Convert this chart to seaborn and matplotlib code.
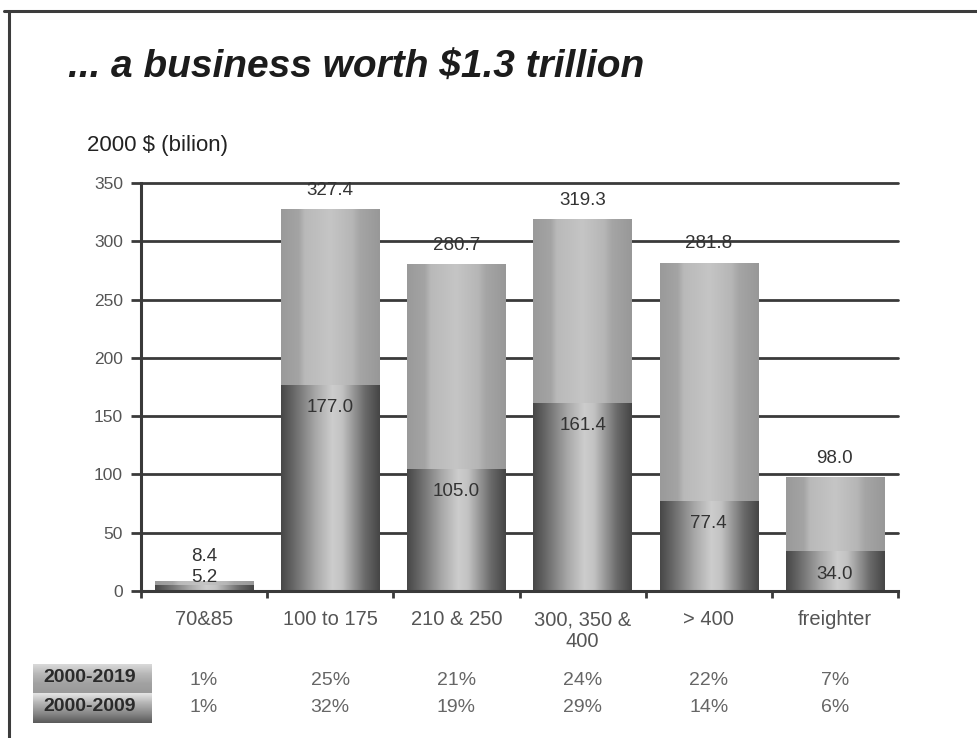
import numpy as np
import pandas as pd
import matplotlib
matplotlib.use("Agg")
import matplotlib.pyplot as plt
import seaborn as sns
from matplotlib.colors import LinearSegmentedColormap
from matplotlib.lines import Line2D
from matplotlib import transforms

# --- data -------------------------------------------------------------
categories = ["70&85", "100 to 175", "210 & 250", "300, 350 &\n400", "> 400", "freighter"]
value_2000_2019 = [8.4, 327.4, 280.7, 319.3, 281.8, 98.0]
value_2000_2009 = [5.2, 177.0, 105.0, 161.4, 77.4, 34.0]
share_2000_2019 = ["1%", "25%", "21%", "24%", "22%", "7%"]
share_2000_2009 = ["1%", "32%", "19%", "29%", "14%", "6%"]
row_labels = ["2000-2019", "2000-2009"]
y_ticks = [0, 50, 100, 150, 200, 250, 300, 350]

title = "... a business worth $1.3 trillion"
unit_label = "2000 $ (bilion)"

# --- style ------------------------------------------------------------
sns.set_theme(style="white")
plt.rcParams["font.family"] = ["Liberation Sans", "DejaVu Sans"]
INK = "#3a3a3a"

W, H = 977, 738
fig = plt.figure(figsize=(W / 100, H / 100), dpi=100)
fig.patch.set_facecolor("white")

ax = fig.add_axes([141 / W, 1 - 591 / H, (898 - 141) / W, (591 - 183) / H])

df = pd.DataFrame({"category": categories,
                   "total": value_2000_2019,
                   "early": value_2000_2009})

bar_w = 0.78
sns.barplot(data=df, x="category", y="total", color="#b4b4b4", width=bar_w,
            errorbar=None, saturation=1, ax=ax)
sns.barplot(data=df, x="category", y="early", color="#8a8a8a", width=bar_w,
            errorbar=None, saturation=1, ax=ax)

n = len(categories)
light_patches = ax.patches[:n]
dark_patches = ax.patches[n:2 * n]

# cylindrical shading for the bars
light_cmap = LinearSegmentedColormap.from_list(
    "light_bar", [(0.0, "#9a9a9a"), (0.18, "#a4a4a4"), (0.24, "#b9b9b9"),
                  (0.5, "#c5c5c5"), (0.72, "#b6b6b6"), (0.8, "#a5a5a5"),
                  (1.0, "#989898")])
dark_cmap = LinearSegmentedColormap.from_list(
    "dark_bar", [(0.0, "#474747"), (0.12, "#666666"), (0.35, "#a8a8a8"),
                 (0.52, "#cdcdcd"), (0.62, "#c2c2c2"), (0.85, "#6a6a6a"),
                 (1.0, "#454545")])
grad = np.linspace(0, 1, 256).reshape(1, -1)


def shade(patches, cmap, z):
    for p in patches:
        p.set_zorder(z)
        p.set_edgecolor("none")
        x0, y0 = p.get_x(), p.get_y()
        w, h = p.get_width(), p.get_height()
        im = ax.imshow(grad, cmap=cmap, extent=(x0, x0 + w, y0, y0 + h),
                       aspect="auto", interpolation="bicubic", zorder=z + 0.1)
        im.set_clip_path(p)


shade(light_patches, light_cmap, 2)
shade(dark_patches, dark_cmap, 3)

ax.set_xlim(-0.5, n - 0.5)
ax.set_ylim(0, 350)

# axes, grid, ticks
for side in ("top", "right"):
    ax.spines[side].set_visible(False)
for side in ("left", "bottom"):
    ax.spines[side].set_color(INK)
    ax.spines[side].set_linewidth(2.2)
    ax.spines[side].set_zorder(4)

ax.set_axisbelow(True)
ax.yaxis.grid(True, color=INK, linewidth=2.0)
ax.xaxis.grid(False)
ax.set_yticks(y_ticks)
for gl in ax.get_ygridlines():
    gl.set_clip_on(False)

ax.tick_params(axis="y", which="major", direction="out", length=7, width=2,
               color=INK, pad=6, labelsize=12.5, labelcolor="#555555", left=True)
ax.set_xticks(range(n))
ax.set_xticklabels(categories, fontsize=14.5, color="#555555", linespacing=1.15)
ax.tick_params(axis="x", which="major", length=0, pad=14)
ax.set_xticks(np.arange(-0.5, n, 1), minor=True)
ax.tick_params(axis="x", which="minor", direction="out", length=5, width=2,
               color=INK, bottom=True)
ax.set_xlabel("")
ax.set_ylabel("")

# value labels
for i, (tot, early) in enumerate(zip(value_2000_2019, value_2000_2009)):
    small = early < 30
    ax.annotate(f"{tot:.1f}", (i, tot), xytext=(0, 18 if small else 13.5),
                textcoords="offset points", ha="center", va="center",
                fontsize=13.5, color="#333333", zorder=6)
    ax.annotate(f"{early:.1f}", (i, early), xytext=(0, 5 if small else -16.5),
                textcoords="offset points", ha="center", va="center",
                fontsize=13.5, color="#333333", zorder=6)

# share table under the chart
row_y = [1 - 680.5 / H, 1 - 707.5 / H]
blend = transforms.blended_transform_factory(ax.transData, fig.transFigure)
for ry, shares in zip(row_y, [share_2000_2019, share_2000_2009]):
    for i, s in enumerate(shares):
        fig.text(i, ry, s, transform=blend, ha="center", va="center",
                 fontsize=14, color="#666666")

box_cmaps = [
    LinearSegmentedColormap.from_list("box1", ["#dadada", "#b8b8b8", "#a2a2a2", "#9a9a9a"]),
    LinearSegmentedColormap.from_list("box2", ["#e6e6e6", "#b4b4b4", "#8a8a8a", "#5a5a5a"]),
]
box_edges = [(664, 693), (693, 723)]
vgrad = np.linspace(0, 1, 64).reshape(-1, 1)
for (top, bottom), cmap, label in zip(box_edges, box_cmaps, row_labels):
    bax = fig.add_axes([33 / W, 1 - bottom / H, 119 / W, (bottom - top) / H])
    bax.imshow(vgrad, cmap=cmap, aspect="auto", interpolation="bicubic")
    bax.set_axis_off()
    bax.text(0.48, 0.55, label, transform=bax.transAxes, ha="center", va="center",
             fontsize=14, fontweight="bold", color="#2a2a2a")

# titles
fig.text(68 / W, 1 - 78 / H, title, fontsize=28, fontweight="bold",
         fontstyle="italic", color="#1c1c1c", va="baseline", ha="left")
fig.text(87 / W, 1 - 146 / H, unit_label, fontsize=16, color="#222222",
         va="center", ha="left")

# slide frame
fig.add_artist(Line2D([4 / W, 1.0], [1 - 11.3 / H, 1 - 11.3 / H],
                      transform=fig.transFigure, color="#3c3c3c", linewidth=2.2))
fig.add_artist(Line2D([8.7 / W, 8.7 / W], [1 - 11.3 / H, 0.0],
                      transform=fig.transFigure, color="#3c3c3c", linewidth=2.2))

fig.savefig("out.png", dpi=100)
